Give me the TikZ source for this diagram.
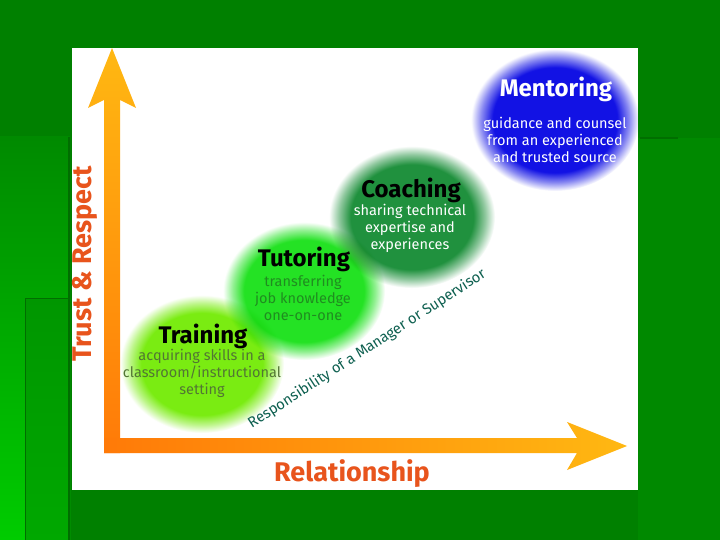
\documentclass[tikz,border=0pt]{standalone}
\usepackage{fontspec}
\setmainfont{Fira Sans}
\definecolor{bgbase}{RGB}{0,128,0}
\definecolor{bgright}{RGB}{0,137,0}
\definecolor{bgleftA}{RGB}{0,138,0}
\definecolor{bgleftB}{RGB}{0,204,0}
\definecolor{bgmidA}{RGB}{0,150,0}
\definecolor{bgmidB}{RGB}{0,168,0}
\definecolor{bgline}{RGB}{0,110,0}
\definecolor{axisyellow}{RGB}{255,184,18}
\definecolor{axisorange}{RGB}{255,122,8}
\definecolor{axislabel}{RGB}{232,84,28}
\definecolor{trainfill}{RGB}{122,236,18}
\definecolor{tutorfill}{RGB}{36,226,36}
\definecolor{coachfill}{RGB}{32,145,62}
\definecolor{mentorfill}{RGB}{18,18,228}
\definecolor{traintext}{RGB}{82,118,52}
\definecolor{tutortext}{RGB}{32,140,32}
\definecolor{resptext}{RGB}{14,96,80}
\tikzset{
  headtext/.style={font=\bfseries\fontsize{24}{28}\selectfont, anchor=base},
  bodytext/.style={font=\fontsize{14.5}{17}\selectfont, align=center},
  axistext/.style={font=\bfseries\fontsize{27}{30}\selectfont, text=axislabel}
}
\begin{document}
\pgfdeclareradialshading{trainshade}{\pgfpointorigin}{color(0bp)=(trainfill); color(18.5bp)=(trainfill); color(22bp)=(trainfill!50!white); color(25bp)=(white); color(50bp)=(white)}
\pgfdeclareradialshading{tutorshade}{\pgfpointorigin}{color(0bp)=(tutorfill); color(18.5bp)=(tutorfill); color(22bp)=(tutorfill!50!white); color(25bp)=(white); color(50bp)=(white)}
\pgfdeclareradialshading{coachshade}{\pgfpointorigin}{color(0bp)=(coachfill); color(18.5bp)=(coachfill); color(22bp)=(coachfill!50!white); color(25bp)=(white); color(50bp)=(white)}
\pgfdeclareradialshading{mentorshade}{\pgfpointorigin}{color(0bp)=(mentorfill); color(18.5bp)=(mentorfill); color(22bp)=(mentorfill!50!white); color(25bp)=(white); color(50bp)=(white)}
\begin{tikzpicture}[x=1pt,y=-1pt, every node/.style={inner sep=0pt, outer sep=0pt}]
\useasboundingbox (0,0) rectangle (720,540);
% slide background
\fill[bgbase] (0,0) rectangle (720,540);
\fill[bgright] (638,138) rectangle (720,540);
\shade[top color=bgleftA, bottom color=bgleftB] (0,137) rectangle (70,540);
\shade[top color=bgmidA, bottom color=bgmidB] (25,298) rectangle (70,540);
\draw[bgline, line width=1.5] (69,137) -- (69,540);
\draw[bgline, line width=0.8] (25,298) -- (25,540);
\draw[bgline, line width=0.8] (25,298) -- (70,298);
\draw[bgline, line width=2] (640,138) -- (678,138);
% white panel
\fill[white] (72,48) rectangle (638,490);
% soft circles
\begin{scope}[blend mode=multiply]
\clip (72,48) rectangle (638,490);
\shade[shading=trainshade] (202,364) ellipse [x radius=82, y radius=69];
\shade[shading=tutorshade] (304,291) ellipse [x radius=81, y radius=69];
\shade[shading=coachshade] (412,217) ellipse [x radius=83, y radius=71];
\shade[shading=mentorshade] (555,120) ellipse [x radius=84, y radius=71];
\end{scope}
% axes
\shade[top color=axisyellow, bottom color=axisorange]
  (104,453) -- (104,100) -- (88,108) -- (112,48) -- (136,108) -- (120,100) -- (120,453) -- cycle;
\shade[left color=axisorange, right color=axisyellow]
  (104,438) -- (577,438) -- (567,422) -- (627,446) -- (567,470) -- (577,453) -- (104,453) -- cycle;
% axis labels
\node[axistext, rotate=90] (trust) at (85,264) {Trust \& Respect};
\node[axistext] (rel) at (352,474) {Relationship};
% circle texts
\node[headtext] (trainh) at (203,343) {Training};
\node[bodytext, text=traintext] (trainb) at (202,373) {acquiring skills in a\\classroom/instructional\\setting};
\node[headtext] (tutorh) at (304,266) {Tutoring};
\node[bodytext, text=tutortext] (tutorb) at (303,298) {transferring\\job knowledge\\one-on-one};
\node[headtext] (coachh) at (411,198) {Coaching};
\node[bodytext, text=white] (coachb) at (410,228) {sharing technical\\expertise and\\experiences};
\node[headtext, text=white] (mentorh) at (556,97) {Mentoring};
\node[bodytext, text=white] (mentorb) at (555,140) {guidance and counsel\\from an experienced\\and trusted source};
% diagonal label
\node[font=\fontsize{14.8}{18}\selectfont, text=resptext, rotate=33] (resp) at (367,349) {Responsibility of a Manager or Supervisor};
\end{tikzpicture}
\end{document}
